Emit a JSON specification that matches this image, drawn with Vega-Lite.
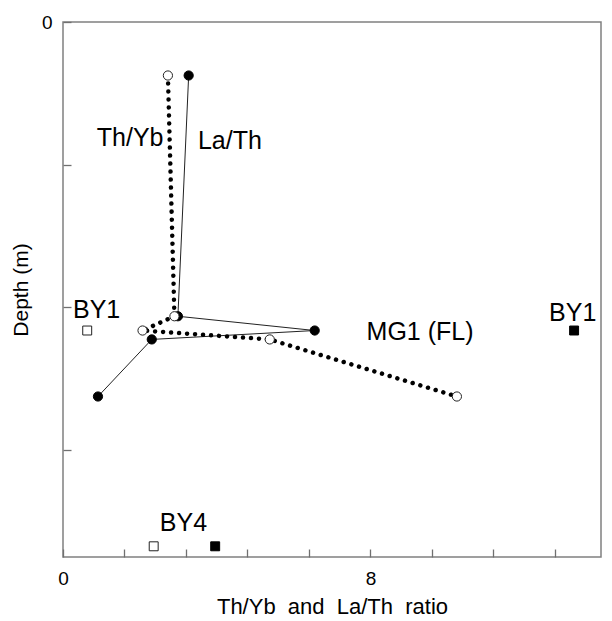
{
  "$schema": "https://vega.github.io/schema/vega-lite/v6.json",
  "width": 538,
  "height": 535,
  "autosize": {"type": "none"},
  "padding": {"left": 63, "top": 22, "right": 11, "bottom": 64},
  "background": "white",
  "config": {
    "view": {"stroke": "#808080", "strokeWidth": 1.5},
    "font": "Liberation Sans"
  },
  "datasets": {
    "profile": [
      {"series": "La/Th", "ratio": 3.27, "depth": 0.30},
      {"series": "La/Th", "ratio": 2.99, "depth": 1.65},
      {"series": "La/Th", "ratio": 6.55, "depth": 1.73},
      {"series": "La/Th", "ratio": 2.31, "depth": 1.78},
      {"series": "La/Th", "ratio": 0.91, "depth": 2.10},
      {"series": "Th/Yb", "ratio": 2.73, "depth": 0.30},
      {"series": "Th/Yb", "ratio": 2.90, "depth": 1.65},
      {"series": "Th/Yb", "ratio": 2.07, "depth": 1.73},
      {"series": "Th/Yb", "ratio": 5.38, "depth": 1.78},
      {"series": "Th/Yb", "ratio": 10.25, "depth": 2.10}
    ],
    "ref": [
      {"site": "BY1", "series": "Th/Yb", "ratio": 0.63, "depth": 1.73},
      {"site": "BY1", "series": "La/Th", "ratio": 13.3, "depth": 1.73},
      {"site": "BY4", "series": "Th/Yb", "ratio": 2.36, "depth": 2.94},
      {"site": "BY4", "series": "La/Th", "ratio": 3.96, "depth": 2.94}
    ],
    "labels": [
      {"text": "Th/Yb", "ratio": 0.88, "depth": 0.65},
      {"text": "La/Th", "ratio": 3.51, "depth": 0.67},
      {"text": "BY1", "ratio": 0.26, "depth": 1.615},
      {"text": "MG1 (FL)", "ratio": 7.9, "depth": 1.74},
      {"text": "BY1", "ratio": 12.65, "depth": 1.63},
      {"text": "BY4", "ratio": 2.52, "depth": 2.81}
    ]
  },
  "layer": [
    {
      "data": {"name": "profile"},
      "transform": [{"filter": "datum.series === 'La/Th'"}],
      "mark": {"type": "line", "color": "#222222", "strokeWidth": 1},
      "encoding": {
        "x": {
          "field": "ratio", "type": "quantitative",
          "scale": {"domain": [0, 14], "nice": false, "zero": false},
          "axis": {
            "grid": false,
            "domain": false,
            "values": [0, 0.4, 0.8, 1.2, 1.6, 2, 2.4, 2.8, 3.2, 3.6, 4, 4.4, 4.8, 5.2, 5.6, 6, 6.4, 6.8, 7.2, 7.6, 8, 8.4, 8.8, 9.2, 9.6, 10, 10.4, 10.8, 11.2, 11.6, 12, 12.4, 12.8, 13.2, 13.6, 14],
            "tickCount": 200,
            "format": "d",
            "labelExpr": "datum.value % 2 === 0 ? datum.label : ''",
            "tickSize": -8,
            "tickColor": "#707070",
            "tickWidth": 1.3,
            "labelPadding": 20,
            "labelFlush": false,
            "labelOverlap": false,
            "labelFont": "Liberation Sans",
            "labelFontSize": 19,
            "labelColor": "#000000",
            "title": "Th/Yb\u00a0 and\u00a0 La/Th\u00a0 ratio",
            "titleFont": "Liberation Sans",
            "titleFontSize": 22,
            "titleFontWeight": "normal",
            "titleColor": "#000000",
            "titlePadding": 8
          }
        },
        "y": {
          "field": "depth", "type": "quantitative",
          "scale": {"domain": [0, 3], "nice": false, "zero": false, "reverse": true},
          "axis": {
            "grid": false,
            "domain": false,
            "values": [0, 0.2, 0.4, 0.6, 0.8, 1, 1.2, 1.4, 1.6, 1.8, 2, 2.2, 2.4, 2.6, 2.8, 3],
            "tickCount": 200,
            "format": "d",
            "labelExpr": "datum.value % 1 === 0 ? datum.label : ''",
            "tickSize": -8,
            "tickColor": "#707070",
            "tickWidth": 1.3,
            "labelPadding": 19,
            "labelFlush": false,
            "labelOverlap": false,
            "labelFont": "Liberation Sans",
            "labelFontSize": 19,
            "labelColor": "#000000",
            "title": "Depth (m)",
            "titleFont": "Liberation Sans",
            "titleFontSize": 21,
            "titleFontWeight": "normal",
            "titleColor": "#000000",
            "titlePadding": 10
          }
        },
        "order": {"field": "depth", "type": "quantitative"}
      }
    },
    {
      "data": {"name": "profile"},
      "transform": [{"filter": "datum.series === 'Th/Yb'"}],
      "mark": {"type": "line", "color": "#000000", "strokeWidth": 4.5, "strokeDash": [0.01, 8], "strokeCap": "round"},
      "encoding": {
        "x": {"field": "ratio", "type": "quantitative"},
        "y": {"field": "depth", "type": "quantitative"},
        "order": {"field": "depth", "type": "quantitative"}
      }
    },
    {
      "data": {"name": "profile"},
      "mark": {"type": "point", "shape": "circle", "size": 85, "strokeWidth": 1, "opacity": 1},
      "encoding": {
        "x": {"field": "ratio", "type": "quantitative"},
        "y": {"field": "depth", "type": "quantitative"},
        "fill": {
          "field": "series", "type": "nominal",
          "scale": {"domain": ["La/Th", "Th/Yb"], "range": ["#000000", "#ffffff"]},
          "legend": null
        },
        "stroke": {
          "field": "series", "type": "nominal",
          "scale": {"domain": ["La/Th", "Th/Yb"], "range": ["#000000", "#222222"]},
          "legend": null
        }
      }
    },
    {
      "data": {"name": "ref"},
      "mark": {"type": "point", "shape": "square", "size": 80, "strokeWidth": 1, "opacity": 1},
      "encoding": {
        "x": {"field": "ratio", "type": "quantitative"},
        "y": {"field": "depth", "type": "quantitative"},
        "fill": {"field": "series", "type": "nominal", "legend": null},
        "stroke": {"field": "series", "type": "nominal", "legend": null}
      }
    },
    {
      "data": {"name": "labels"},
      "mark": {"type": "text", "align": "left", "baseline": "middle", "fontSize": 25, "font": "Liberation Sans", "color": "#000000"},
      "encoding": {
        "x": {"field": "ratio", "type": "quantitative"},
        "y": {"field": "depth", "type": "quantitative"},
        "text": {"field": "text"}
      }
    }
  ]
}
